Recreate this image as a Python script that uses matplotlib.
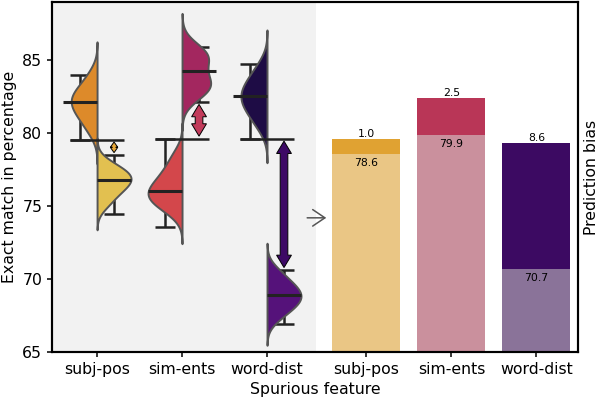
import numpy as np
import pandas as pd
import matplotlib
matplotlib.use('Agg')
import matplotlib.pyplot as plt
import seaborn as sns
from matplotlib.patches import Polygon

features = ['subj-pos', 'sim-ents', 'word-dist']

# per-run exact match scores, left and right half of each split violin
subj_left = [80.16, 80.94, 81.41, 81.80, 82.15, 82.44, 82.77, 83.17, 84.00]
subj_right = [75.10, 75.75, 76.15, 76.48, 76.76, 76.98, 77.22, 77.50, 77.95]
sim_left = [74.70, 75.23, 75.55, 75.81, 76.05, 76.47, 76.94, 77.51, 78.44]
sim_right = [82.50, 83.00, 83.30, 83.50, 84.00, 84.90, 85.20, 85.40, 85.90]
word_left = [80.46, 81.27, 81.76, 82.17, 82.53, 82.89, 83.30, 83.79, 84.60]
word_right = [67.37, 67.96, 68.32, 68.61, 68.88, 69.17, 69.50, 69.90, 70.55]

# mean and error bar ends
mean_left = [82.15, 76.05, 82.53]
lo_left = [79.57, 73.55, 79.63]
hi_left = [84.02, 79.63, 84.77]
mean_right = [76.76, 84.27, 68.88]
lo_right = [74.43, 82.15, 66.90]
hi_right = [78.50, 85.91, 70.62]

# stacked bars: lower bound and prediction bias
bias_base = [78.6, 79.9, 70.7]
bias = [1.0, 2.5, 8.6]

left_colors = ['#dd8a2a', '#d3474b', '#1e0c45']
right_colors = ['#e2c050', '#a3275f', '#55127a']
arrow_colors = ['#e8a838', '#c23b5b', '#3d0965']
bar_top_colors = ['#e0a232', '#b93657', '#3c0a62']
bar_base_colors = ['#eac685', '#ca909d', '#8a7399']


def double_arrow(ax, x, y0, y1, color, shaft=0.09, head_w=0.175, head_len=0.85, shrink=0.17):
    lo, hi = sorted((y0, y1))
    lo += shrink
    hi -= shrink
    hl = min(head_len, (hi - lo) / 2)
    k = hl / head_len
    hw = head_w / 2 * max(k, 0.5)
    sw = shaft / 2 * k
    pts = [(x, lo), (x + hw, lo + hl), (x + sw, lo + hl), (x + sw, hi - hl),
           (x + hw, hi - hl), (x, hi), (x - hw, hi - hl), (x - sw, hi - hl),
           (x - sw, lo + hl), (x - hw, lo + hl)]
    ax.add_patch(Polygon(pts, closed=True, facecolor=color, edgecolor='black',
                         lw=0.7, zorder=6))


plt.rcParams['font.family'] = ['DejaVu Sans']
fig = plt.figure(figsize=(5.98, 3.98), dpi=100)
ax = fig.add_axes([0.087, 0.1156, 0.8796, 0.8794])

ax.axvspan(-0.53, 2.58, color='#f2f2f2', zorder=0, lw=0)

halves = [(subj_left, subj_right), (sim_left, sim_right), (word_left, word_right)]
cap = 0.115
for i, feat in enumerate(features):
    left, right = halves[i]
    df = pd.DataFrame({
        'feature': feat,
        'side': ['left'] * len(left) + ['right'] * len(right),
        'score': left + right,
    })
    # error bars sit behind the violins
    ax.errorbar([i - 0.2], [mean_left[i]],
                yerr=[[mean_left[i] - lo_left[i]], [hi_left[i] - mean_left[i]]],
                fmt='none', ecolor='#222222', elinewidth=1.8, capsize=7.2,
                capthick=1.8, zorder=2)
    ax.errorbar([i + 0.2], [mean_right[i]],
                yerr=[[mean_right[i] - lo_right[i]], [hi_right[i] - mean_right[i]]],
                fmt='none', ecolor='#222222', elinewidth=1.8, capsize=7.2,
                capthick=1.8, zorder=2)
    sns.violinplot(data=df, x='feature', y='score', hue='side', order=features,
                   hue_order=['left', 'right'], split=True, inner=None,
                   palette=[left_colors[i], right_colors[i]], saturation=1,
                   linecolor='#555555', linewidth=1.4, width=0.8, cut=3,
                   density_norm='area', common_norm=True, legend=False,
                   ax=ax, zorder=3)
    ax.hlines(mean_left[i], i - 0.4, i, color='#222222', lw=2.2, zorder=4)
    ax.hlines(mean_right[i], i, i + 0.4, color='#222222', lw=2.2, zorder=4)

    # gap between the two groups
    if mean_left[i] > mean_right[i]:
        near_left, near_right = lo_left[i], hi_right[i]
    else:
        near_left, near_right = hi_left[i], lo_right[i]
    ax.hlines(near_left, i - 0.2 - cap, i + 0.2 + cap, color='#222222', lw=1.8, zorder=4)
    double_arrow(ax, i + 0.2, near_right, near_left, arrow_colors[i])

bar_pos = [3.17, 4.17, 5.17]
base_bars = ax.bar(bar_pos, bias_base, width=0.8, color=bar_base_colors, zorder=2)
top_bars = ax.bar(bar_pos, bias, bottom=bias_base, width=0.8, color=bar_top_colors, zorder=2)
ax.bar_label(base_bars, labels=[f'{v:.1f}' for v in bias_base], padding=-10, fontsize=7.8)
ax.bar_label(top_bars, labels=[f'{v:.1f}' for v in bias], padding=0.3, fontsize=7.8)

ax.annotate('', xy=(2.73, 74.2), xytext=(2.44, 74.2),
            arrowprops=dict(arrowstyle='->,head_length=0.4,head_width=0.27',
                            color='#555555', lw=1.1, mutation_scale=22))

ax.set_xlim(-0.53, 5.66)
ax.set_ylim(65, 89)
ax.set_xticks(list(range(3)) + bar_pos)
ax.set_xticklabels(features + features)
ax.set_yticks([65, 70, 75, 80, 85])
ax.tick_params(labelsize=11.3, length=3.5, width=1.1, colors='black')
ax.set_xlabel('Spurious feature', fontsize=11.3)
ax.set_ylabel('Exact match in percentage', fontsize=11.3)

ax2 = ax.twinx()
ax2.set_yticks([])
ax2.set_ylabel('Prediction bias', fontsize=11.3)

for a in (ax, ax2):
    for s in a.spines.values():
        s.set_linewidth(1.5)
        s.set_color('black')

fig.savefig('out.png', dpi=100)
